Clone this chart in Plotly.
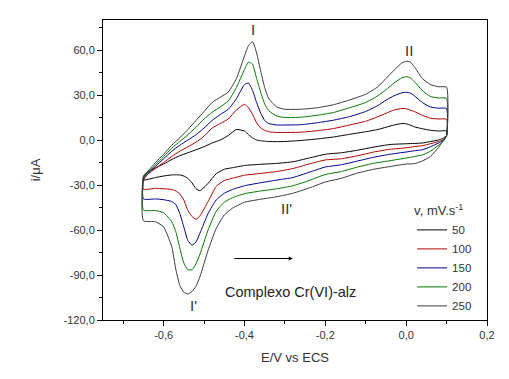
import plotly.graph_objects as go

# Potential grids (V vs ECS): forward (anodic) sweep and reverse (cathodic) sweep
E_forward = [-0.65, -0.64, -0.62, -0.60, -0.58, -0.56, -0.54, -0.52, -0.50, -0.48,
             -0.46, -0.44, -0.42, -0.40, -0.39, -0.38, -0.37, -0.36, -0.35, -0.34,
             -0.32, -0.30, -0.26, -0.22, -0.18, -0.14, -0.10, -0.07, -0.05, -0.03,
             -0.01, 0.00, 0.01, 0.02, 0.04, 0.06, 0.08, 0.10]
E_reverse = [0.10, 0.09, 0.08, 0.06, 0.04, 0.02, 0.00, -0.04, -0.08, -0.12,
             -0.16, -0.20, -0.24, -0.28, -0.32, -0.36, -0.40, -0.43, -0.45, -0.47,
             -0.49, -0.51, -0.52, -0.53, -0.54, -0.55, -0.56, -0.57, -0.58, -0.60,
             -0.62, -0.65]

# Current (uA), forward sweep
i_fwd_50 = [-25, -21.5, -18.5, -16, -13, -10.5, -8.5, -6.5, -4.5, -2,
            0, 3, 7, 6, 3.5, 1.5, 0, -0.5, -0.8, -1,
            -1.1, -1, -0.3, 0.7, 2, 3.8, 5.5, 7, 8.5, 10,
            11, 10.8, 10, 8.8, 7.5, 6.5, 6, 6]
i_fwd_100 = [-27, -23, -19, -15, -11, -7.5, -4.5, -1.5, 2.5, 8,
             11, 14, 20, 23.8, 21.5, 17, 11.5, 8, 6.5, 5.5,
             5, 5, 5.2, 6.2, 7.6, 10, 12.5, 15.5, 17.8, 20,
             21, 20.8, 20, 19, 16.5, 14.5, 14, 13.8]
i_fwd_150 = [-26, -22.5, -17.5, -12.5, -7.5, -3.5, 0, 3.5, 8, 13,
             17, 20.5, 27.5, 37, 38, 33, 25, 18, 13, 11,
             10, 10, 10.2, 11.5, 13.2, 15.6, 19, 23, 26.5, 29.5,
             31.5, 31.8, 31.3, 29.5, 25, 22, 21.2, 21]
i_fwd_200 = [-25, -22, -16.5, -11, -5.5, -1, 3.5, 8.5, 14, 18.5,
             22, 26, 35, 47, 52, 50.5, 41, 32, 24, 19.5,
             16, 15, 15.2, 16.5, 18.3, 21.5, 25, 29.5, 33.5, 38,
             41.5, 42.2, 41.5, 39, 33, 29, 28, 27.8]
i_fwd_250 = [-24, -21, -15, -9.5, -3.5, 1.5, 7, 13, 19, 25,
             28.5, 32, 41, 56, 63, 65.5, 58, 46, 35, 27.5,
             22, 20.5, 20.5, 21.5, 23.5, 26.7, 30.5, 35.5, 41, 46.5,
             51.5, 52.5, 52, 49, 41, 37, 35.5, 35.2]

# Current (uA), reverse sweep
i_rev_50 = [3, 1, 0, -1, -2, -2.3, -2.5, -3, -4.7, -6.8,
            -8.5, -9.5, -12, -14.5, -15.6, -16.2, -17, -18.5, -19.5, -22.5,
            -28.9, -33.8, -32.5, -28.5, -25.6, -24, -23.3, -23.2, -23.3, -24,
            -25, -26.7]
i_rev_100 = [3, 0, -1, -2.5, -3.8, -4.4, -5.2, -6.2, -8, -10.5,
             -12.5, -13.3, -16, -19, -21, -22.3, -23.5, -25.5, -27, -31,
             -41, -50.5, -52.9, -51, -47, -40, -36, -34, -33, -32.5,
             -32.2, -32.9]
i_rev_150 = [3, -0.5, -2, -4.5, -6.5, -7.2, -8, -9.5, -11.5, -14,
             -16.5, -18, -21.5, -25, -26.7, -28.5, -30.5, -33, -35.5, -40,
             -49, -62, -68, -70, -67, -58, -49, -43, -41, -39.8,
             -39.3, -39.3]
i_rev_200 = [3, -1.5, -3.5, -7.5, -10, -11, -12, -13.8, -15.5, -18,
             -21, -23, -27, -30.5, -32.5, -34, -35.8, -38.5, -41.5, -47.5,
             -60, -76, -82.5, -86.5, -86.5, -82, -72, -61, -54.5, -48.5,
             -47, -46.7]
i_rev_250 = [3, -1, -5, -11, -14, -15.8, -16, -17.7, -19.5, -22,
             -25.5, -28, -32, -35.5, -37.8, -39.5, -41.5, -45.5, -50, -59,
             -73.5, -91, -97.5, -101, -102.7, -101.5, -97, -86, -71, -58,
             -54.5, -53.8]

scan_rates = ["50", "100", "150", "200", "250"]
forward = [i_fwd_50, i_fwd_100, i_fwd_150, i_fwd_200, i_fwd_250]
reverse = [i_rev_50, i_rev_100, i_rev_150, i_rev_200, i_rev_250]
colors = ["#000000", "#b00000", "#00008b", "#007a00", "#3a3a3a"]

x_tickvals = [-0.6, -0.4, -0.2, 0.0, 0.2]
x_ticktext = ["-0,6", "-0,4", "-0,2", "0,0", "0,2"]
y_tickvals = [-120, -90, -60, -30, 0, 30, 60]
y_ticktext = ["-120,0", "-90,0", "-60,0", "-30,0", "0,0", "30,0", "60,0"]

FONT = "Liberation Sans, Arial, sans-serif"

fig = go.Figure()
for name, fw, rv, c in zip(scan_rates, forward, reverse, colors):
    xs = E_forward + E_reverse + [E_forward[0]]
    ys = fw + rv + [fw[0]]
    fig.add_trace(go.Scatter(x=xs, y=ys, mode="lines", name=name,
                             line=dict(color=c, width=1, shape="spline", smoothing=0.5)))

axis_font = dict(family=FONT, size=11, color="#333333")

fig.update_xaxes(range=[-0.75, 0.2], tickvals=x_tickvals, ticktext=x_ticktext,
                 ticks="outside", ticklen=5, tickwidth=1, tickcolor="#000",
                 minor=dict(dtick=0.1, tick0=-0.7, ticks="outside", ticklen=3, tickcolor="#000"),
                 showline=True, linecolor="#000", linewidth=1, mirror=True,
                 showgrid=False, zeroline=False, tickfont=axis_font,
                 title=dict(text="E/V vs ECS", font=dict(family=FONT, size=13, color="#333333"),
                            standoff=12))
fig.update_yaxes(range=[-120, 80], tickvals=y_tickvals, ticktext=y_ticktext,
                 ticks="outside", ticklen=5, tickwidth=1, tickcolor="#000",
                 minor=dict(dtick=15, tick0=-105, ticks="outside", ticklen=3, tickcolor="#000"),
                 showline=True, linecolor="#000", linewidth=1, mirror=True,
                 showgrid=False, zeroline=False, tickfont=axis_font,
                 title=dict(text="i/μA", font=dict(family=FONT, size=13, color="#333333"),
                            standoff=20))

ann_font = dict(family=FONT, size=15, color="#333333")
fig.add_annotation(x=-0.379, y=73.5, text="I", showarrow=False, font=ann_font)
fig.add_annotation(x=0.008, y=60, text="II", showarrow=False, font=ann_font)
fig.add_annotation(x=-0.527, y=-110.5, text="I'", showarrow=False, font=ann_font)
fig.add_annotation(x=-0.296, y=-45.5, text="II'", showarrow=False, font=ann_font)
fig.add_annotation(x=-0.287, y=-101, text="Complexo Cr(VI)-alz", showarrow=False,
                   font=dict(family=FONT, size=14.5, color="#222222"))
fig.add_annotation(x=-0.28, y=-79, ax=-0.429, ay=-79, axref="x", ayref="y",
                   xref="x", yref="y", text="", showarrow=True, arrowhead=2,
                   arrowsize=0.7, arrowwidth=1.2, arrowcolor="#000")

# page body has an 8px margin; figure size/margins compensate so the plot area
# lands at 103..487 x 20..320 in the 509x379 window
fig.update_layout(
    width=501, height=371,
    margin=dict(l=95, r=22, t=12, b=59),
    plot_bgcolor="white", paper_bgcolor="white",
    font=dict(family=FONT, color="#333333"),
    legend=dict(x=0.805, y=0.405, xanchor="left", yanchor="top",
                bgcolor="rgba(0,0,0,0)", borderwidth=0,
                font=dict(family=FONT, size=11.5, color="#333333"),
                title=dict(text="v, mV.s<sup>-1</sup>", font=dict(family=FONT, size=13, color="#333333")),
                tracegroupgap=0, itemwidth=30),
    showlegend=True,
)

fig.write_html("out.html")
